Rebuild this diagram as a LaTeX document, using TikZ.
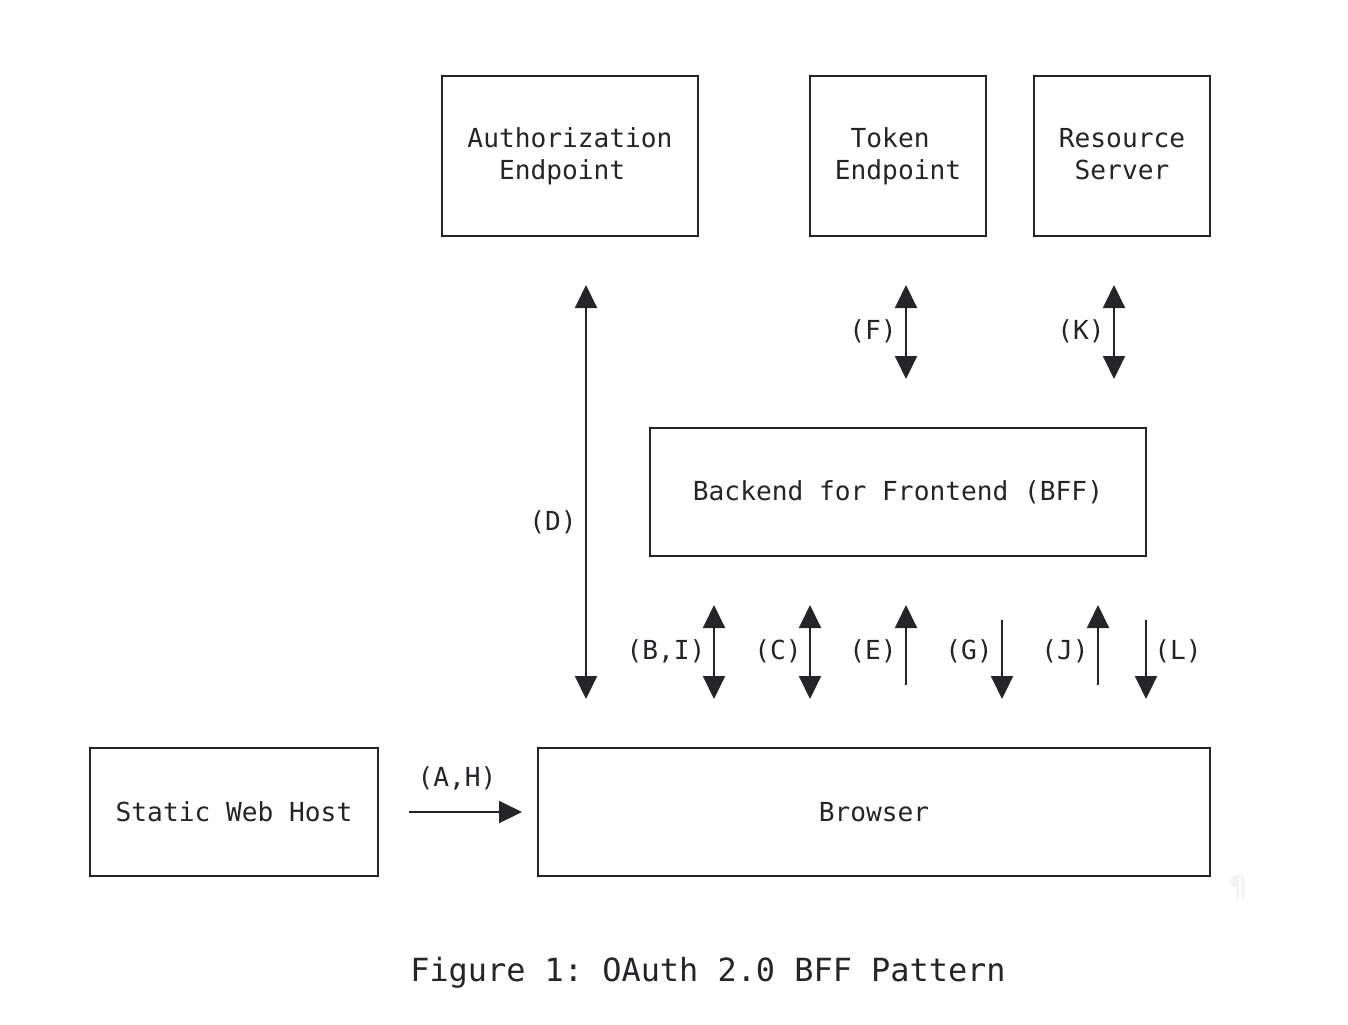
\documentclass[tikz,border=0pt]{standalone}
\usepackage{fontspec}
\setmonofont{DejaVu Sans Mono}
\usetikzlibrary{arrows.meta}
\definecolor{ink}{RGB}{35,37,41}
\tikzset{
  txt/.style={font=\ttfamily\fontsize{13.1}{16}\selectfont,text=ink,inner sep=0pt},
  box/.style={txt,draw=ink,line width=1pt,align=left},
  tipdown/.style={draw=ink,line width=1pt,-{Triangle[length=11.5pt,width=11pt]}},
  tipup/.style={draw=ink,line width=1pt,{Triangle[length=11.5pt,width=11pt]}-},
  tipboth/.style={draw=ink,line width=1pt,{Triangle[length=11.5pt,width=11pt]}-{Triangle[length=11.5pt,width=11pt]}}
}
\begin{document}
\begin{tikzpicture}[x=0.5pt,y=-0.5pt]
\useasboundingbox(0,0)rectangle(1348,1024);
% boxes
\node[box,minimum width=128pt,minimum height=80pt](auth)at(570,156){Authorization\\\phantom{xx}Endpoint};
\node[box,minimum width=88pt,minimum height=80pt](token)at(898,156){\phantom{x}Token\\Endpoint};
\node[box,minimum width=88pt,minimum height=80pt,text depth=2pt](res)at(1122,156){Resource\\\phantom{x}Server};
\node[box,minimum width=248pt,minimum height=64pt](bff)at(898,492){Backend for Frontend (BFF)};
\node[box,minimum width=144pt,minimum height=64pt](host)at(234,812){Static Web Host};
\node[box,minimum width=336pt,minimum height=64pt](browser)at(874,812){Browser};
% flows
\foreach \n/\x/\a/\b/\s/\t/\lx/\ly in {d/586/285/699/tipboth/(D)/553/522,f/906/285/379/tipboth/(F)/873/331,k/1114/285/379/tipboth/(K)/1081/331,bi/714/605/699/tipboth/{(B,I)}/666/651,c/810/605/699/tipboth/(C)/778/651,e/906/605/685/tipup/(E)/873/651,g/1002/620/699/tipdown/(G)/969/651,j/1098/605/685/tipup/(J)/1065/651,l/1146/620/699/tipdown/(L)/1178/651}{
\coordinate(\n1)at(\x,\a);
\coordinate(\n2)at(\x,\b);
\draw[\s](\n1)--(\n2);
\node[txt](\n l)at(\lx,\ly){\t};
}
\coordinate(ah1)at(409,812);
\coordinate(ah2)at(522,812);
\draw[tipdown](ah1)--(ah2);
\node[txt](ahl)at(457,778){(A,H)};
% caption
\node[txt,font=\ttfamily\fontsize{15.95}{19}\selectfont](cap)at(708,973){Figure 1: OAuth 2.0 BFF Pattern};
\node[txt,text=black!5,font=\ttfamily\fontsize{15}{18}\selectfont](mark)at(1238,888){¶};
\end{tikzpicture}
\end{document}
